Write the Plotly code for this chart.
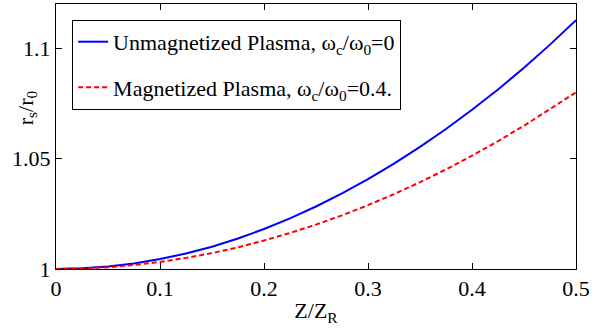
import plotly.graph_objects as go

z = [0.0, 0.025, 0.05, 0.075, 0.1, 0.125, 0.15, 0.175, 0.2, 0.225, 0.25,
     0.275, 0.3, 0.325, 0.35, 0.375, 0.4, 0.425, 0.45, 0.475, 0.5]
unmag = [1.0000, 1.0003, 1.0011, 1.0025, 1.0045, 1.0070, 1.0101, 1.0138, 1.0181, 1.0229, 1.0283,
         1.0342, 1.0407, 1.0477, 1.0553, 1.0634, 1.0721, 1.0813, 1.0911, 1.1016, 1.1127]
mag = [1.0000, 1.0002, 1.0008, 1.0018, 1.0032, 1.0050, 1.0072, 1.0098, 1.0129, 1.0163, 1.0201,
       1.0243, 1.0289, 1.0339, 1.0393, 1.0451, 1.0513, 1.0579, 1.0649, 1.0723, 1.0800]
xticks = [0, 0.1, 0.2, 0.3, 0.4, 0.5]
xticklabels = ["0", "0.1", "0.2", "0.3", "0.4", "0.5"]
yticks = [1, 1.05, 1.1]
yticklabels = ["1", "1.05", "1.1"]

font = "Times New Roman, Liberation Serif, Tinos, serif"
fs = 22

fig = go.Figure()
fig.add_trace(go.Scatter(x=z, y=unmag, mode="lines", legendgroup="a",
                         line=dict(color="#0000ff", width=2),
                         name="Unmagnetized Plasma, ω<sub>c</sub>/ω<sub>0</sub>=0"))
fig.add_trace(go.Scatter(x=z, y=mag, mode="lines", legendgroup="b",
                         line=dict(color="#ff0000", width=2, dash="5px,3px"),
                         name="Magnetized Plasma, ω<sub>c</sub>/ω<sub>0</sub>=0.4."))

axis_common = dict(showgrid=False, zeroline=False, showline=True, linecolor="black", linewidth=1,
                   mirror="ticks", ticks="inside", ticklen=6, tickcolor="black",
                   tickfont=dict(family=font, size=fs, color="black"))
fig.update_xaxes(range=[0, 0.5], tickvals=xticks, ticktext=xticklabels,
                 title=dict(text="Z/Z<sub>R</sub>", font=dict(family=font, size=fs, color="black"), standoff=2),
                 **axis_common)
fig.update_yaxes(range=[1, 1.12], tickvals=yticks, ticktext=yticklabels, **axis_common)

fig.add_annotation(text="r<sub>s</sub>/r<sub>0</sub>", textangle=-90, xref="paper", yref="paper",
                   x=-0.056, y=0.61, xanchor="center", yanchor="middle", showarrow=False,
                   font=dict(family=font, size=fs, color="black"))

fig.update_layout(
    width=593, height=335,
    margin=dict(l=56, r=17, t=4, b=66),
    plot_bgcolor="white", paper_bgcolor="white",
    font=dict(family=font, size=fs, color="black"),
    legend=dict(x=0.031, y=0.94, xanchor="left", yanchor="top",
                bgcolor="white", bordercolor="black", borderwidth=1,
                font=dict(family=font, size=fs, color="black"),
                itemwidth=30, tracegroupgap=14),
    showlegend=True,
)

fig.write_html("out.html", config={"displayModeBar": False},
               post_script="document.body.style.margin='0px';")
